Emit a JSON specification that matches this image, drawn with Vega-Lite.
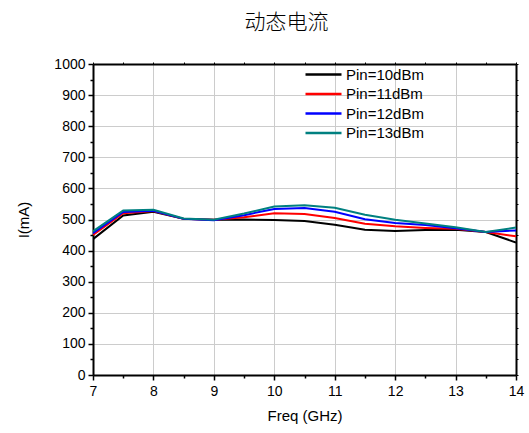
{
  "$schema": "https://vega.github.io/schema/vega-lite/v6.json",
  "width": 423,
  "height": 311,
  "autosize": {"type": "none"},
  "padding": {"left": 93, "top": 64, "right": 13, "bottom": 58},
  "background": "white",
  "title": {
    "text": "动态电流",
    "font": "Noto Sans CJK SC",
    "fontSize": 21,
    "fontWeight": 300,
    "color": "#000000",
    "anchor": "middle",
    "dx": -18,
    "offset": 24
  },
  "config": {
    "view": {"stroke": null},
    "font": "Liberation Sans"
  },
  "data": {
    "values": [
      {"freq": 7, "I": 437, "series": "Pin=10dBm"},
      {"freq": 7.5, "I": 513, "series": "Pin=10dBm"},
      {"freq": 8, "I": 525, "series": "Pin=10dBm"},
      {"freq": 8.5, "I": 502, "series": "Pin=10dBm"},
      {"freq": 9, "I": 499, "series": "Pin=10dBm"},
      {"freq": 9.5, "I": 500, "series": "Pin=10dBm"},
      {"freq": 10, "I": 498, "series": "Pin=10dBm"},
      {"freq": 10.5, "I": 495, "series": "Pin=10dBm"},
      {"freq": 11, "I": 483, "series": "Pin=10dBm"},
      {"freq": 11.5, "I": 467, "series": "Pin=10dBm"},
      {"freq": 12, "I": 463, "series": "Pin=10dBm"},
      {"freq": 12.5, "I": 466, "series": "Pin=10dBm"},
      {"freq": 13, "I": 467, "series": "Pin=10dBm"},
      {"freq": 13.5, "I": 460, "series": "Pin=10dBm"},
      {"freq": 14, "I": 426, "series": "Pin=10dBm"},
      {"freq": 7, "I": 450, "series": "Pin=11dBm"},
      {"freq": 7.5, "I": 520, "series": "Pin=11dBm"},
      {"freq": 8, "I": 527, "series": "Pin=11dBm"},
      {"freq": 8.5, "I": 502, "series": "Pin=11dBm"},
      {"freq": 9, "I": 499, "series": "Pin=11dBm"},
      {"freq": 9.5, "I": 507, "series": "Pin=11dBm"},
      {"freq": 10, "I": 520, "series": "Pin=11dBm"},
      {"freq": 10.5, "I": 518, "series": "Pin=11dBm"},
      {"freq": 11, "I": 505, "series": "Pin=11dBm"},
      {"freq": 11.5, "I": 486, "series": "Pin=11dBm"},
      {"freq": 12, "I": 478, "series": "Pin=11dBm"},
      {"freq": 12.5, "I": 473, "series": "Pin=11dBm"},
      {"freq": 13, "I": 470, "series": "Pin=11dBm"},
      {"freq": 13.5, "I": 460, "series": "Pin=11dBm"},
      {"freq": 14, "I": 446, "series": "Pin=11dBm"},
      {"freq": 7, "I": 456, "series": "Pin=12dBm"},
      {"freq": 7.5, "I": 524, "series": "Pin=12dBm"},
      {"freq": 8, "I": 528, "series": "Pin=12dBm"},
      {"freq": 8.5, "I": 502, "series": "Pin=12dBm"},
      {"freq": 9, "I": 498, "series": "Pin=12dBm"},
      {"freq": 9.5, "I": 514, "series": "Pin=12dBm"},
      {"freq": 10, "I": 534, "series": "Pin=12dBm"},
      {"freq": 10.5, "I": 537, "series": "Pin=12dBm"},
      {"freq": 11, "I": 525, "series": "Pin=12dBm"},
      {"freq": 11.5, "I": 501, "series": "Pin=12dBm"},
      {"freq": 12, "I": 489, "series": "Pin=12dBm"},
      {"freq": 12.5, "I": 482, "series": "Pin=12dBm"},
      {"freq": 13, "I": 472, "series": "Pin=12dBm"},
      {"freq": 13.5, "I": 460, "series": "Pin=12dBm"},
      {"freq": 14, "I": 465, "series": "Pin=12dBm"},
      {"freq": 7, "I": 462, "series": "Pin=13dBm"},
      {"freq": 7.5, "I": 529, "series": "Pin=13dBm"},
      {"freq": 8, "I": 531, "series": "Pin=13dBm"},
      {"freq": 8.5, "I": 503, "series": "Pin=13dBm"},
      {"freq": 9, "I": 499, "series": "Pin=13dBm"},
      {"freq": 9.5, "I": 519, "series": "Pin=13dBm"},
      {"freq": 10, "I": 542, "series": "Pin=13dBm"},
      {"freq": 10.5, "I": 546, "series": "Pin=13dBm"},
      {"freq": 11, "I": 538, "series": "Pin=13dBm"},
      {"freq": 11.5, "I": 515, "series": "Pin=13dBm"},
      {"freq": 12, "I": 499, "series": "Pin=13dBm"},
      {"freq": 12.5, "I": 487, "series": "Pin=13dBm"},
      {"freq": 13, "I": 475, "series": "Pin=13dBm"},
      {"freq": 13.5, "I": 460, "series": "Pin=13dBm"},
      {"freq": 14, "I": 474, "series": "Pin=13dBm"}
    ]
  },
  "resolve": {"axis": {"x": "independent", "y": "independent"}},
  "layer": [
    {
      "mark": {"type": "line", "strokeOpacity": 0},
      "encoding": {
        "x": {"field": "freq", "type": "quantitative", "scale": {"domain": [7, 14], "nice": false, "zero": false},
          "axis": {"orient": "top", "title": null, "labels": false, "grid": false, "domain": true, "domainColor": "#000000", "domainWidth": 2,
            "values": [7, 7.5, 8, 8.5, 9, 9.5, 10, 10.5, 11, 11.5, 12, 12.5, 13, 13.5, 14], "ticks": true, "tickSize": 2, "tickColor": "#000000", "tickWidth": 1}},
        "y": {"field": "I", "type": "quantitative", "scale": {"domain": [0, 1000], "nice": false},
          "axis": {"orient": "right", "title": null, "labels": false, "grid": false, "domain": true, "domainColor": "#000000", "domainWidth": 2,
            "values": [0, 50, 100, 150, 200, 250, 300, 350, 400, 450, 500, 550, 600, 650, 700, 750, 800, 850, 900, 950, 1000], "ticks": true, "tickSize": 2, "tickColor": "#000000", "tickWidth": 1}},
        "detail": {"field": "series"}
      }
    },
    {
      "mark": {"type": "line", "strokeOpacity": 0},
      "encoding": {
        "x": {"field": "freq", "type": "quantitative", "scale": {"domain": [7, 14], "nice": false, "zero": false},
          "axis": {"orient": "bottom", "title": null, "labels": false, "grid": false, "domain": false,
            "values": [7.5, 8.5, 9.5, 10.5, 11.5, 12.5, 13.5], "ticks": true, "tickSize": 3, "tickColor": "#000000", "tickWidth": 1.5}},
        "y": {"field": "I", "type": "quantitative", "scale": {"domain": [0, 1000], "nice": false},
          "axis": {"orient": "left", "title": null, "labels": false, "grid": false, "domain": false,
            "values": [50, 150, 250, 350, 450, 550, 650, 750, 850, 950], "ticks": true, "tickSize": 3, "tickColor": "#000000", "tickWidth": 1.5}},
        "detail": {"field": "series"}
      }
    },
    {
      "mark": {"type": "line", "strokeWidth": 2, "clip": true},
      "encoding": {
        "x": {"field": "freq", "type": "quantitative", "scale": {"domain": [7, 14], "nice": false, "zero": false},
          "axis": {"orient": "bottom", "title": "Freq (GHz)", "titleFont": "Liberation Sans", "titleFontSize": 15, "titleFontWeight": "normal", "titleColor": "#000000", "titlePadding": 10,
            "values": [7, 8, 9, 10, 11, 12, 13, 14], "format": "d", "labelFont": "Liberation Sans", "labelFontSize": 14, "labelColor": "#000000", "labelPadding": 4, "labelFlush": false, "labelOverlap": false,
            "grid": true, "gridColor": "#cccccc", "gridWidth": 1, "domain": true, "domainColor": "#000000", "domainWidth": 2,
            "ticks": true, "tickSize": 5, "tickColor": "#000000", "tickWidth": 1.5}},
        "y": {"field": "I", "type": "quantitative", "scale": {"domain": [0, 1000], "nice": false},
          "axis": {"orient": "left", "title": "I(mA)", "titleFont": "Liberation Sans", "titleFontSize": 15, "titleFontWeight": "normal", "titleColor": "#000000", "titlePadding": 22,
            "values": [0, 100, 200, 300, 400, 500, 600, 700, 800, 900, 1000], "format": "d", "labelFont": "Liberation Sans", "labelFontSize": 14, "labelColor": "#000000", "labelPadding": 3, "labelFlush": false, "labelOverlap": false,
            "grid": true, "gridColor": "#cccccc", "gridWidth": 1, "domain": true, "domainColor": "#000000", "domainWidth": 2,
            "ticks": true, "tickSize": 5, "tickColor": "#000000", "tickWidth": 1.5}},
        "color": {"field": "series", "type": "nominal",
          "scale": {"domain": ["Pin=10dBm", "Pin=11dBm", "Pin=12dBm", "Pin=13dBm"], "range": ["#000000", "#ff0000", "#0000ff", "#008080"]},
          "legend": {"title": null, "orient": "none", "legendX": 235, "legendY": 3, "padding": 0,
            "symbolType": "M-5,0H1", "symbolSize": 144, "symbolStrokeWidth": 2.5, "symbolFillColor": "transparent",
            "labelFont": "Liberation Sans", "labelFontSize": 15, "labelColor": "#000000", "labelOffset": 3, "rowPadding": 3.5}}
      }
    }
  ]
}
